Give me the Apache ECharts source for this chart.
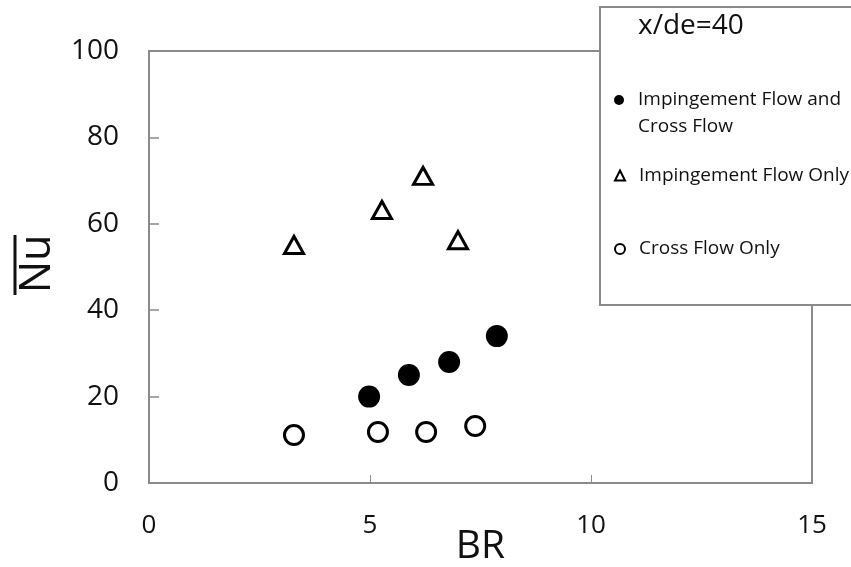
<!DOCTYPE html>
<html>
<head>
<meta charset="utf-8">
<script src="https://cdn.jsdelivr.net/npm/echarts@6/dist/echarts.min.js"></script>
<style>
  html, body { margin: 0; padding: 0; background: #fff; }
  #chart { width: 851px; height: 567px; }
</style>
</head>
<body>
<div id="chart"></div>
<script>
"use strict";
const xTicks = [0, 5, 10, 15];
const yTicks = [0, 20, 40, 60, 80, 100];
const bothName = "Impingement Flow and\nCross Flow";
const impName = "Impingement Flow Only";
const crossName = "Cross Flow Only";
const bothBR = [4.98, 5.88, 6.79, 7.87];
const bothNu = [20.0, 25.0, 28.0, 34.0];
const impBR = [3.28, 5.27, 6.20, 6.99];
const impNu = [55.1, 63.2, 71.1, 56.2];
const crossBR = [3.28, 5.18, 6.27, 7.38];
const crossNu = [11.1, 11.8, 11.8, 13.2];

const font = "Open Sans";
const textColor = "#111";
const axisGray = "#8a8a8a";
const pairs = (xs, ys) => xs.map((x, i) => [x, ys[i]]);

const chart = echarts.init(document.getElementById("chart"));
const legendBase = {
    orient: "vertical",
    left: 614,
    padding: 0,
    itemWidth: 10,
    itemHeight: 10,
    selectedMode: false,
    itemStyle: { borderWidth: 2, opacity: 1 },
    textStyle: { fontFamily: font, fontSize: 19, color: textColor, lineHeight: 27, padding: [0, 0, 0, 9] }
};
chart.setOption({
    animation: false,
    title: {
        text: "x/de=40",
        left: 638,
        top: 12,
        padding: 0,
        textStyle: { fontFamily: font, fontSize: 28, fontWeight: "normal", color: textColor }
    },
    legend: [
        Object.assign({}, legendBase, {
            top: 59.5,
            data: [bothName],
            // blank first line keeps the marker level with the first text line
            formatter: (name) => " \n" + name
        }),
        Object.assign({}, legendBase, { top: 162, data: [impName] }),
        Object.assign({}, legendBase, { top: 235.5, data: [crossName] })
    ],
    grid: {
        left: 149, top: 51, right: 39, bottom: 84,
        outerBoundsMode: "none",
        containLabel: false,
        show: true, borderColor: axisGray, borderWidth: 2
    },
    xAxis: {
        type: "value",
        min: xTicks[0],
        max: xTicks[xTicks.length - 1],
        interval: 5,
        name: "BR",
        nameLocation: "middle",
        nameGap: 44,
        nameMoveOverlap: false,
        nameTextStyle: { fontFamily: font, fontSize: 39, color: textColor },
        axisLine: { show: true, lineStyle: { color: axisGray, width: 2 } },
        axisTick: { show: true, inside: true, length: 8, lineStyle: { color: axisGray, width: 1 } },
        axisLabel: { fontFamily: font, fontSize: 26, color: textColor, margin: 30 },
        splitLine: { show: false }
    },
    yAxis: {
        type: "value",
        min: yTicks[0],
        max: yTicks[yTicks.length - 1],
        interval: 20,
        name: "Nu",
        nameLocation: "middle",
        nameRotate: 90,
        nameGap: 90,
        nameMoveOverlap: false,
        nameTextStyle: { fontFamily: font, fontSize: 43, color: textColor, padding: [0, 0, 0, 6] },
        axisLine: { show: true, lineStyle: { color: axisGray, width: 2 } },
        axisTick: { show: true, inside: true, length: 10, lineStyle: { color: axisGray, width: 1.5 } },
        axisLabel: { fontFamily: font, fontSize: 28, color: textColor, margin: 30 },
        splitLine: { show: false }
    },
    graphic: [
        {
            type: "rect",
            z: 3,
            shape: { x: 600, y: 7, width: 300, height: 298 },
            style: { fill: "#fff", stroke: axisGray, lineWidth: 2 }
        },
        {
            // overline of the Nu axis name
            type: "line",
            z: 3,
            shape: { x1: 15, y1: 235, x2: 15, y2: 295 },
            style: { stroke: textColor, lineWidth: 3 }
        }
    ],
    series: [
        {
            name: bothName,
            type: "scatter",
            symbol: "circle",
            symbolSize: 22,
            itemStyle: { color: "#000", opacity: 1 },
            data: pairs(bothBR, bothNu)
        },
        {
            name: impName,
            type: "scatter",
            symbol: "triangle",
            symbolSize: [19, 17],
            itemStyle: { color: "#fff", borderColor: "#000", borderWidth: 3, opacity: 1 },
            data: pairs(impBR, impNu)
        },
        {
            name: crossName,
            type: "scatter",
            symbol: "circle",
            symbolSize: 19,
            itemStyle: { color: "#fff", borderColor: "#000", borderWidth: 3, opacity: 1 },
            data: pairs(crossBR, crossNu)
        }
    ]
});
</script>
</body>
</html>
